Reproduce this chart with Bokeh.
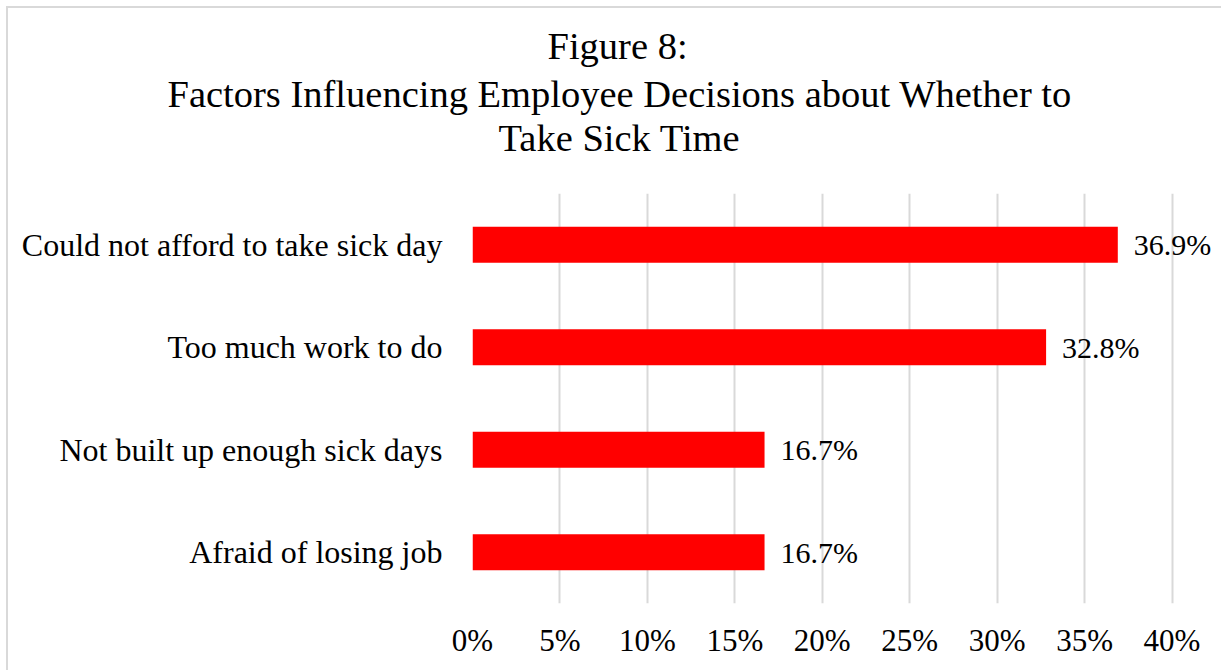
from bokeh.plotting import figure
from bokeh.models import Title, FactorRange, Range1d, FixedTicker, ColumnDataSource
from bokeh.embed import file_html
from bokeh.resources import INLINE
from bokeh.core.properties import value

# ---- data ----
categories = [
    "Could not afford to take sick day",
    "Too much work to do",
    "Not built up enough sick days",
    "Afraid of losing job",
]
percentages = [36.9, 32.8, 16.7, 16.7]
value_labels = ["36.9%", "32.8%", "16.7%", "16.7%"]
x_ticks = [0, 5, 10, 15, 20, 25, 30, 35, 40]
x_tick_labels = ["0%", "5%", "10%", "15%", "20%", "25%", "30%", "35%", "40%"]
title_lines = [
    "Figure 8:",
    "Factors Influencing Employee Decisions about Whether to",
    "Take Sick Time",
]

FONT = "Liberation Serif"
TEXT_COLOR = "#000000"
BORDER = "#d9d9d9"

src = ColumnDataSource(dict(cat=categories, val=percentages, lbl=value_labels))

p = figure(
    width=1221, height=670,
    y_range=FactorRange(factors=categories[::-1], range_padding=0),
    x_range=Range1d(0, 42.83),
    output_backend="svg", toolbar_location=None, title=None,
    min_border_left=472, min_border_right=0,
    min_border_top=193, min_border_bottom=67,
)
p.border_fill_color = None
p.background_fill_color = "white"
p.styles = {
    "background-color": "white",
    "background-image": f"linear-gradient({BORDER}, {BORDER}), linear-gradient({BORDER}, {BORDER})",
    "background-size": "2px 100%, 100% 2px",
    "background-position": "6px 6px, 6px 6px",
    "background-repeat": "no-repeat",
}
p.outline_line_color = None

p.hbar(y="cat", left=0, right="val", height=0.35, source=src,
       fill_color="#FF0000", line_color=None)

p.text(x="val", y="cat", text="lbl", source=src, x_offset=16,
       text_baseline="middle", text_align="left",
       text_font=value(FONT), text_font_size="30px", text_color=TEXT_COLOR)

# grid
p.xgrid.ticker = FixedTicker(ticks=x_ticks)
p.xgrid.grid_line_color = BORDER
p.xgrid.grid_line_width = 2
p.ygrid.grid_line_color = None

# x axis
p.xaxis.ticker = FixedTicker(ticks=x_ticks)
p.xaxis.major_label_overrides = {t: l for t, l in zip(x_ticks, x_tick_labels)}
p.xaxis.axis_line_color = None
p.xaxis.major_tick_line_color = None
p.xaxis.minor_tick_line_color = None
p.xaxis.major_label_standoff = 13
p.xaxis.major_label_text_font = FONT
p.xaxis.major_label_text_font_size = "31px"
p.xaxis.major_label_text_color = TEXT_COLOR

# y axis
p.yaxis.axis_line_color = None
p.yaxis.major_tick_line_color = None
p.yaxis.minor_tick_line_color = None
p.yaxis.major_tick_out = 0
p.yaxis.major_label_standoff = 30
p.yaxis.major_label_text_font = FONT
p.yaxis.major_label_text_font_size = "32px"
p.yaxis.major_label_text_color = TEXT_COLOR

# spacer between the title block and the plot area
p.add_layout(Title(text=" ", text_font_size="1px", standoff=32), "above")

# titles (added from the line nearest the plot upward)
offsets = [75, -305, 26]
standoffs = [7, 0, 0]
for line, off, so in reversed(list(zip(title_lines, offsets, standoffs))):
    p.add_layout(Title(text=line, align="left", offset=off,
                       text_font=FONT, text_font_size="38.5px",
                       text_font_style="normal", text_color=TEXT_COLOR,
                       standoff=so), "above")

open("out.html", "w").write(file_html(p, INLINE))
